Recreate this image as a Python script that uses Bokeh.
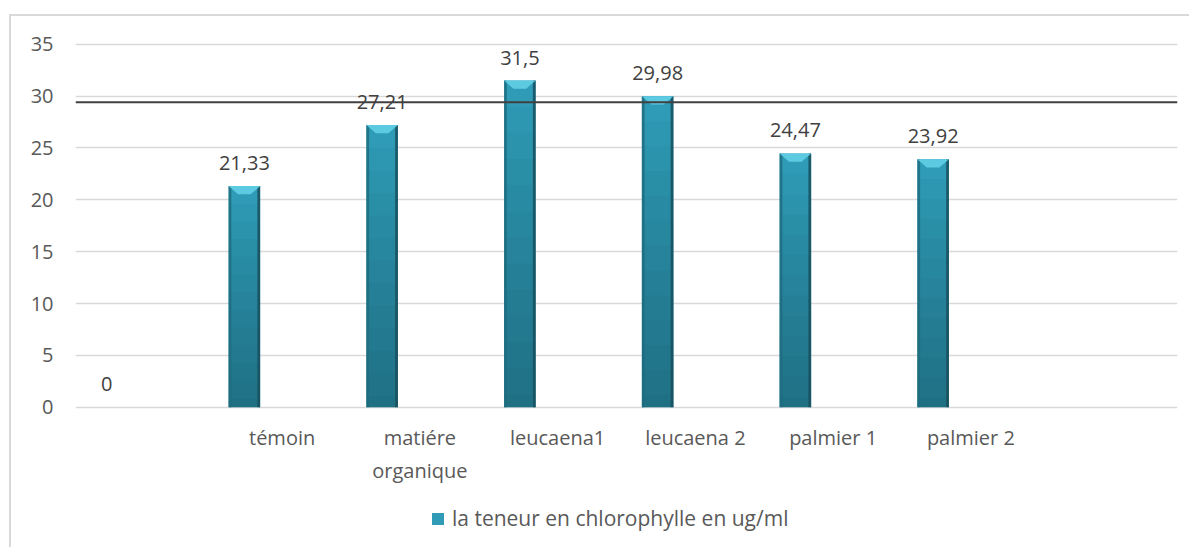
from bokeh.plotting import figure
from bokeh.models import FixedTicker, Legend, LegendItem, ColumnDataSource, Span
from bokeh.core.properties import value
from bokeh.embed import file_html
from bokeh.resources import INLINE

# ---- data ----
categories = ["", "témoin", "matiére\norganique", "leucaena1", "leucaena 2",
              "palmier 1", "palmier 2", ""]
values = [0, 21.33, 27.21, 31.5, 29.98, 24.47, 23.92]
y_ticks = [0, 5, 10, 15, 20, 25, 30, 35]
series_name = "la teneur en chlorophylle en ug/ml"
ref_line = 29.4

FONT = "Open Sans"
TXT = "#595959"

centers = [i + 0.5 for i in range(len(categories))]
offset = -0.274
bw = 0.229
edge = 0.02
bar_x = [centers[i] + offset for i in range(len(values))]
labels = [f"{v:g}".replace(".", ",") for v in values]

src = ColumnDataSource(dict(x=bar_x, top=values, lab=labels,
                            xl=[x - bw / 2 + edge / 2 for x in bar_x],
                            xr=[x + bw / 2 - edge / 2 for x in bar_x]))

p = figure(width=1180, height=533, x_range=(0, len(categories)),
           y_range=(-13.72, 35.36),
           output_backend="svg", toolbar_location=None,
           min_border_left=64, min_border_right=14, min_border_top=24,
           min_border_bottom=0, outline_line_color=None,
           background_fill_color="white", border_fill_color="white")
p.styles = {"margin-left": "9px", "margin-top": "14px",
            "border-left": "2px solid #d9d9d9", "border-top": "2px solid #d9d9d9"}

# grid
p.xgrid.grid_line_color = None
p.ygrid.grid_line_color = "#d9d9d9"
p.ygrid.grid_line_width = 1.3

# y axis
p.yaxis.ticker = FixedTicker(ticks=y_ticks, minor_ticks=[])
p.yaxis.axis_line_color = None
p.yaxis.major_tick_line_color = None
p.yaxis.minor_tick_line_color = None
p.yaxis.major_tick_out = 0
p.yaxis.major_tick_in = 0
p.yaxis.major_label_standoff = 22
p.yaxis.major_label_text_font = FONT
p.yaxis.major_label_text_font_size = "20px"
p.yaxis.major_label_text_color = TXT

# x axis, drawn at y = 0 inside the plot area
p.xaxis.fixed_location = 0
p.xaxis.ticker = FixedTicker(ticks=centers, minor_ticks=[])
p.xaxis.major_label_overrides = {c: lab for c, lab in zip(centers, categories)}
p.xaxis.axis_line_color = None
p.xaxis.major_tick_line_color = None
p.xaxis.minor_tick_line_color = None
p.xaxis.major_tick_out = 0
p.xaxis.major_tick_in = 0
p.xaxis.major_label_standoff = 17
p.xaxis.major_label_text_font = FONT
p.xaxis.major_label_text_font_size = "20px"
p.xaxis.major_label_text_color = TXT

# bars
bars = p.vbar(x="x", top="top", width=bw, bottom=0, source=src,
              fill_color="#2F9BB6", line_color=None)
# vertical shading (darker towards the base)
for frac in [0.92, 0.84, 0.76, 0.68, 0.6, 0.52, 0.44, 0.36, 0.28, 0.2, 0.12, 0.04]:
    p.vbar(x=bar_x, top=[v * frac for v in values], width=bw, bottom=0,
           fill_color="black", fill_alpha=0.022, line_color=None)
p.vbar(x="xl", top="top", width=edge, bottom=0, source=src,
       fill_color="#1E6B7E", fill_alpha=0.8, line_color=None)
p.vbar(x="xr", top="top", width=edge, bottom=0, source=src,
       fill_color="#174F5D", fill_alpha=0.85, line_color=None)

# top bevel (lighter facet)
bev_h = 0.8
inset = bw * 0.3
bev_xs = [[x - bw / 2, x + bw / 2, x + bw / 2 - inset, x - bw / 2 + inset]
          for x, v in zip(bar_x, values) if v > 0]
bev_ys = [[v, v, v - bev_h, v - bev_h] for v in values if v > 0]
p.patches(bev_xs, bev_ys, fill_color="#5CCBE2", line_color=None)

# reference line
p.add_layout(Span(location=ref_line, dimension="width", line_color="#404040",
                  line_width=2))

# data labels
p.text(x="x", y="top", text="lab", source=src, text_align="center",
       text_baseline="alphabetic", y_offset=-23, text_font=value(FONT),
       text_font_size="20px", text_color="#404040")

legend = Legend(items=[LegendItem(label=series_name, renderers=[bars])],
                location=(355, 17), orientation="horizontal",
                label_text_font=FONT, label_text_font_size="21px",
                label_text_color=TXT, glyph_width=15, glyph_height=15,
                label_standoff=7, border_line_color=None, padding=6, margin=0,
                background_fill_alpha=0)
p.add_layout(legend)

open("out.html", "w").write(file_html(p, INLINE))
